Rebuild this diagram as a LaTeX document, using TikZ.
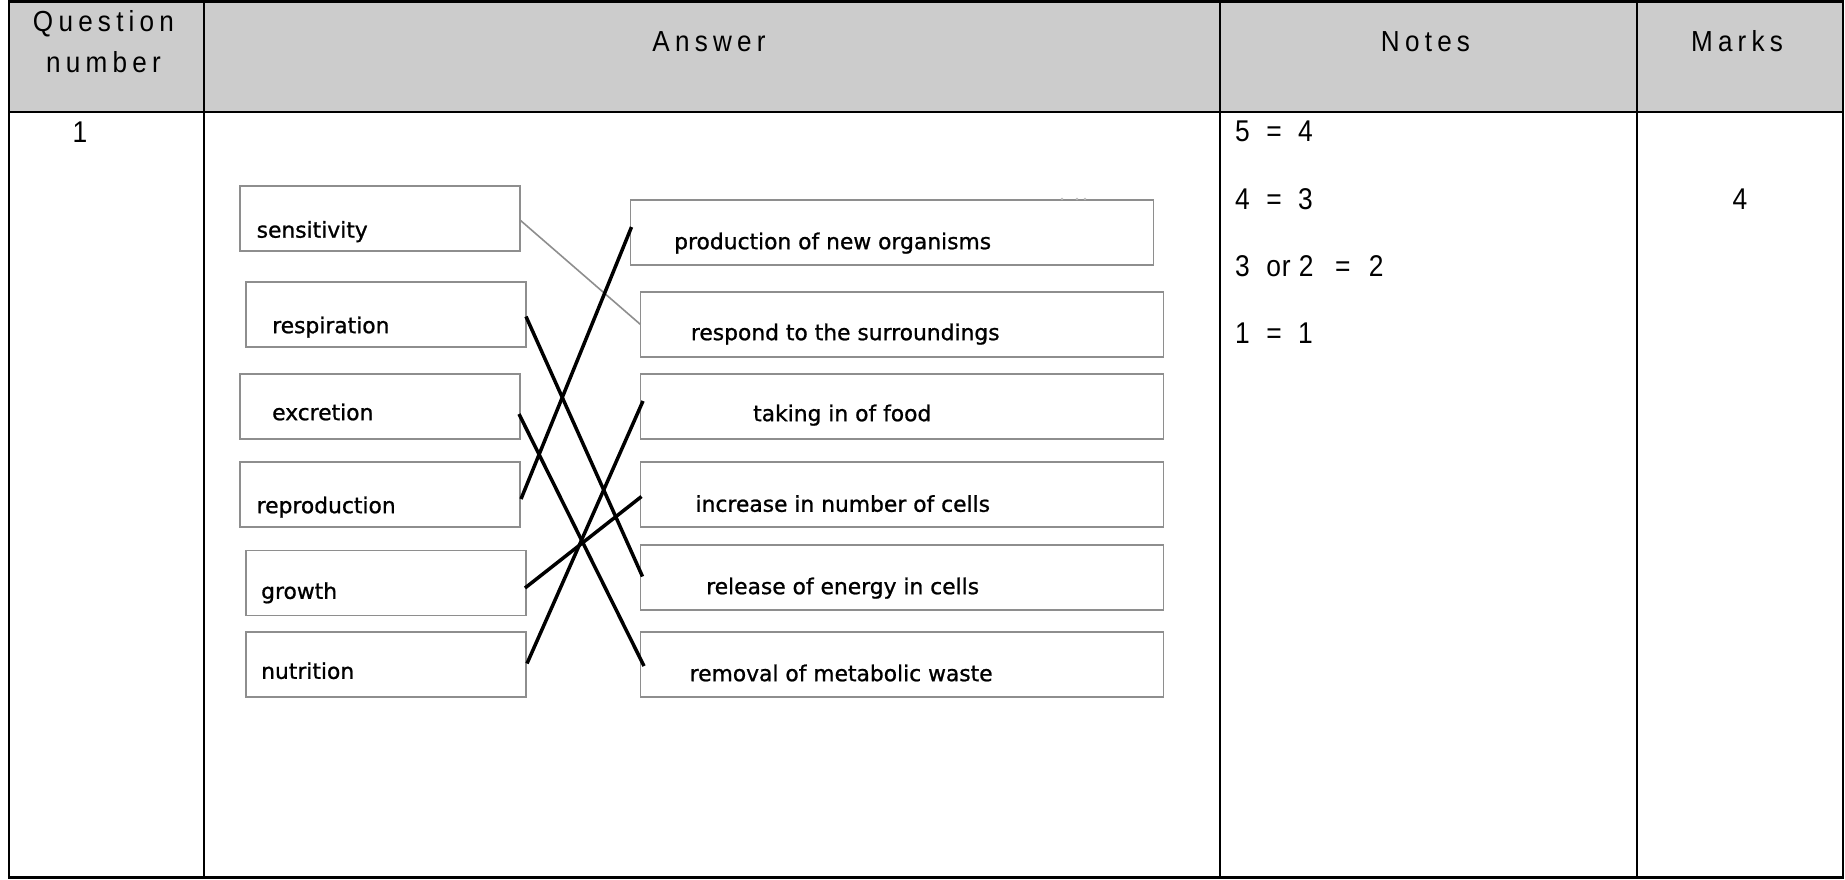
\documentclass[tikz,border=0pt]{standalone}
\usepackage{fontspec}
\setmainfont{Liberation Sans}
\newfontfamily\hdrfont[FakeStretch=0.9,LetterSpace=18]{Liberation Sans}
\newfontfamily\notefont[FakeStretch=0.88,LetterSpace=3]{Liberation Sans}
\newfontfamily\boxfont[FakeBold=1.0]{DejaVu Sans}
\definecolor{hdrgray}{HTML}{CCCCCC}
\definecolor{boxgray}{HTML}{8E8E8E}
\begin{document}
\begin{tikzpicture}[x=1pt,y=-1pt,
  box/.style={draw=boxgray,line width=1.6pt,inner sep=0pt,outer sep=0pt,minimum height=65pt},
  lbox/.style={box,minimum width=280pt},
  rbox/.style={box,minimum width=523pt},
  btxt/.style={anchor=mid west,inner sep=0pt,yshift=-5.5pt,font=\boxfont\fontsize{21.8}{24}\selectfont},
  hdr/.style={anchor=base,inner sep=0pt,xshift=-3pt,font=\hdrfont\fontsize{29}{32}\selectfont},
  note/.style={anchor=base west,inner sep=0pt,font=\notefont\fontsize{30}{33}\selectfont},
  marktxt/.style={anchor=base,inner sep=0pt,font=\notefont\fontsize{30}{33}\selectfont},
  link/.style={line width=3.5pt,black},
  glink/.style={line width=1.6pt,boxgray},
  rule/.style={line width=2.5pt,black}]
\useasboundingbox (0,0) rectangle (1845,879);
% table
\fill[hdrgray] (9,1.5) rectangle (1843,112);
\draw[rule] (9,1.5) rectangle (1843,877.5);
\draw[rule] (9,112) -- (1843,112);
\draw[rule] (204,1.5) -- (204,877.5);
\draw[rule] (1220,1.5) -- (1220,877.5);
\draw[rule] (1637,1.5) -- (1637,877.5);
% headers
\node[hdr] (hq1) at (106.5,31.5) {Question};
\node[hdr] (hq2) at (106.5,72) {number};
\node[hdr] (ha) at (712,51.5) {Answer};
\node[hdr] (hn) at (1428.5,51.5) {Notes};
\node[hdr] (hm) at (1740,51.5) {Marks};
% row
\node[marktxt] (qn) at (80,142) {1};
\node[note] (n1) at (1235,141) {5\ \ =\ \ 4};
\node[note] (n2) at (1235,209) {4\ \ =\ \ 3};
\node[note] (n3) at (1235,276) {3\ \ or\ 2\ \ \hspace{5pt}=\ \ \hspace{2pt}2};
\node[note] (n4) at (1235,343) {1\ \ =\ \ 1};
\node[marktxt] (mk) at (1740,209) {4};
% left boxes
\node[lbox] (sens) at (380,218.5) {};
\node[lbox] (resp) at (386,314.5) {};
\node[lbox] (excr) at (380,406.5) {};
\node[lbox] (repr) at (380,494.5) {};
\node[lbox] (grow) at (386,583) {};
\node[lbox] (nutr) at (386,664.5) {};
\node[btxt] (tsens) at (256.5,229.5) {sensitivity};
\node[btxt] (tresp) at (272,325) {respiration};
\node[btxt] (texcr) at (272,412) {excretion};
\node[btxt] (trepr) at (256.5,505) {reproduction};
\node[btxt] (tgrow) at (261,590.7) {growth};
\node[btxt] (tnutr) at (261,670.7) {nutrition};
% right boxes
\node[rbox] (prod) at (892,232.5) {};
\node[rbox] (rspd) at (902,324.5) {};
\node[rbox] (take) at (902,406.5) {};
\node[rbox] (incr) at (902,494.5) {};
\node[rbox] (rele) at (902,577.5) {};
\node[rbox] (remo) at (902,664.5) {};
\node[btxt] (tprod) at (674,241) {production of new organisms};
\node[btxt] (trspd) at (690.7,332) {respond to the surroundings};
\node[btxt] (ttake) at (753,413) {taking in of food};
\node[btxt] (tincr) at (695.4,503.6) {increase in number of cells};
\node[btxt] (trele) at (706,586) {release of energy in cells};
\node[btxt] (tremo) at (689.5,673) {removal of metabolic waste};
% faint marks above top right box
\fill[boxgray!60] (1062,199) circle (1.3pt) (1077,199) circle (1.3pt) (1085,199) circle (1.3pt);
% connectors
\draw[glink] ([yshift=-1.5pt]sens.east) -- (rspd.west);
\draw[link] ([yshift=-2pt]resp.east) -- ([yshift=1pt,xshift=2pt]rele.west);
\draw[link] ([yshift=-7.5pt,xshift=-1pt]excr.east) -- ([yshift=-1.5pt,xshift=3.5pt]remo.west);
\draw[link] ([yshift=-4.5pt,xshift=1pt]repr.east) -- ([yshift=5.5pt,xshift=1pt]prod.west);
\draw[link] ([yshift=-5pt,xshift=-1pt]grow.east) -- ([yshift=-2pt,xshift=1pt]incr.west);
\draw[link] ([yshift=1pt,xshift=1pt]nutr.east) -- ([yshift=5.5pt,xshift=2.5pt]take.west);
\end{tikzpicture}
\end{document}
